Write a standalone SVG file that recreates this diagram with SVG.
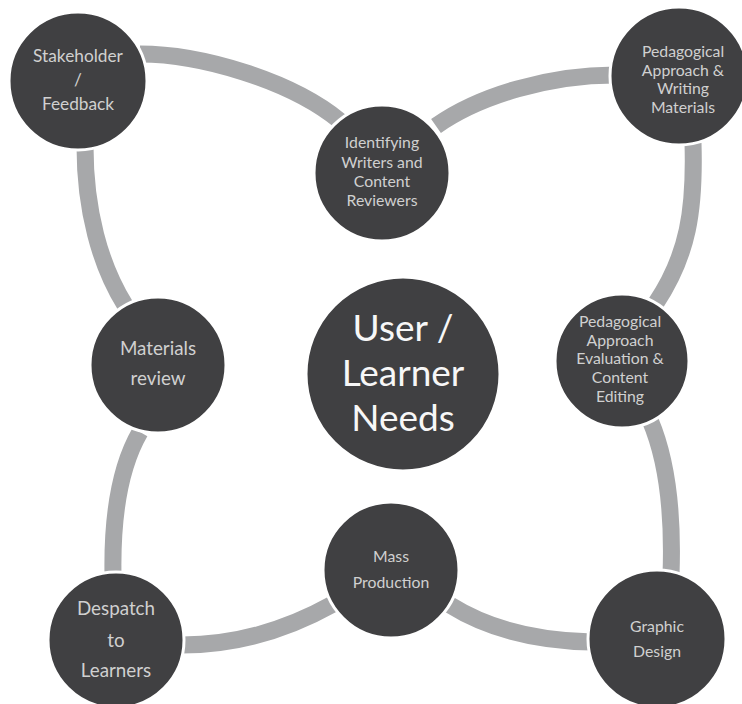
<svg xmlns="http://www.w3.org/2000/svg" width="742" height="704" viewBox="0 0 742 704">
<style>
.arc{fill:none;stroke:#a7a8aa;stroke-width:17;stroke-linecap:butt}
.node circle{fill:#404042;stroke:#ffffff;stroke-width:3}
.t{font-family:Lato,"Open Sans",sans-serif;fill:#d0d0d0;text-anchor:middle}
.s15{font-size:15.8px}
.s16{font-size:17.3px}
.s18{font-size:18.8px}
.big{font-size:37px;fill:#f7f7f7}
</style>
<rect width="742" height="704" fill="#ffffff"/>
<g id="connectors">
<path class="arc" d="M140,54 C200,54 290,80 340,121"/>
<path class="arc" d="M436,126 C480,95 550,75 615,75"/>
<path class="arc" d="M693,143 C695,210 688,255 656,303"/>
<path class="arc" d="M650,420 C668,462 673,520 671,575"/>
<path class="arc" d="M592,642 C540,641 490,630 450,605"/>
<path class="arc" d="M333,604 C290,628 240,645 182,645"/>
<path class="arc" d="M113,575 C112,520 118,470 140,432"/>
<path class="arc" d="M85,146 C85,210 100,265 125,305"/>
</g>
<g id="center" class="node">
<circle cx="403" cy="374" r="97"/>
<text class="t big"><tspan x="403" y="341">User /</tspan><tspan x="403" y="386">Learner</tspan><tspan x="403" y="431">Needs</tspan></text>
</g>
<g id="stakeholder" class="node">
<circle cx="78" cy="81" r="69"/>
<text class="t s16"><tspan x="78" y="62">Stakeholder</tspan><tspan x="78" y="86">/</tspan><tspan x="78" y="110">Feedback</tspan></text>
</g>
<g id="identifying" class="node">
<circle cx="382" cy="173" r="68"/>
<text class="t s15"><tspan x="382" y="148">Identifying</tspan><tspan x="382" y="168">Writers and</tspan><tspan x="382" y="187">Content</tspan><tspan x="382" y="206">Reviewers</tspan></text>
</g>
<g id="ped-writing" class="node">
<circle cx="679" cy="76" r="69"/>
<text class="t s15"><tspan x="683" y="57">Pedagogical</tspan><tspan x="683" y="76">Approach &amp;</tspan><tspan x="683" y="94">Writing</tspan><tspan x="683" y="113">Materials</tspan></text>
</g>
<g id="ped-eval" class="node">
<circle cx="622" cy="361" r="67"/>
<text class="t s15"><tspan x="620" y="327">Pedagogical</tspan><tspan x="620" y="346">Approach</tspan><tspan x="620" y="364">Evaluation &amp;</tspan><tspan x="620" y="383">Content</tspan><tspan x="620" y="402">Editing</tspan></text>
</g>
<g id="graphic" class="node">
<circle cx="657" cy="639" r="69"/>
<text class="t s15"><tspan x="657" y="632">Graphic</tspan><tspan x="657" y="657">Design</tspan></text>
</g>
<g id="mass" class="node">
<circle cx="391" cy="570" r="68"/>
<text class="t s15"><tspan x="391" y="562">Mass</tspan><tspan x="391" y="588">Production</tspan></text>
</g>
<g id="despatch" class="node">
<circle cx="116" cy="640" r="68"/>
<text class="t s18"><tspan x="116" y="615">Despatch</tspan><tspan x="116" y="647">to</tspan><tspan x="116" y="677">Learners</tspan></text>
</g>
<g id="materials" class="node">
<circle cx="158" cy="365" r="68"/>
<text class="t s18"><tspan x="158" y="355">Materials</tspan><tspan x="158" y="385">review</tspan></text>
</g>
</svg>
